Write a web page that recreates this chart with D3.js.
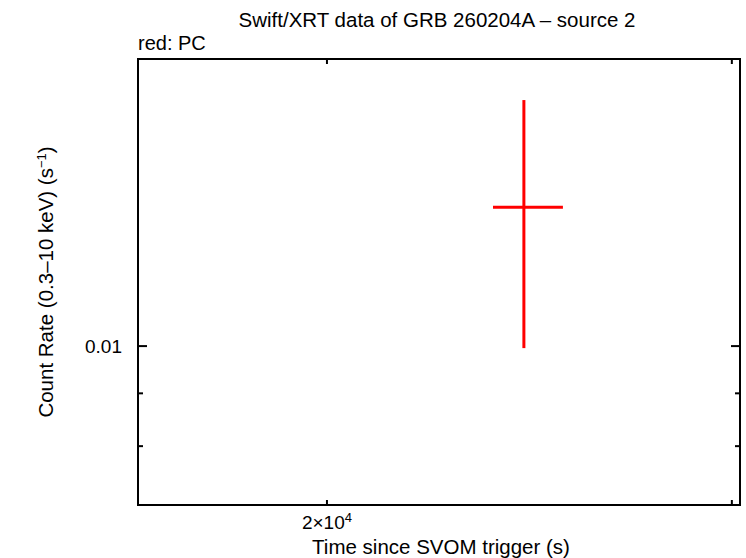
<!DOCTYPE html>
<html>
<head>
<meta charset="utf-8">
<script src="https://cdn.jsdelivr.net/npm/d3@7"></script>
<style>
  body { margin: 0; background: #fff; }
  text { font-family: "Liberation Sans", Arial, sans-serif; fill: #000; }
</style>
</head>
<body>
<div id="chart"></div>
<script>
// data (PC mode, one bin)
const times = [24360];
const timeLo = [23618];
const timeHi = [25331];
const rates = [0.01363];
const rateLo = [0.009955];
const rateHi = [0.01731];

const xDomain = [16552, 30246];
const yDomain = [0.007016, 0.01897];
const xMinorTicks = [20000, 30000];
const xLabels = [{v: 20000, m: '2×10', e: '4'}];
const yMajorTicks = [0.01];
const yMinorTicks = [0.008, 0.009];

//dimensions
const width = 746, height = 558;
const margin = {top: 59, right: 6, bottom: 53, left: 138};
const graphWidth = width - margin.left - margin.right;
const graphHeight = height - margin.top - margin.bottom;

const svg = d3.select('#chart')
    .append('svg')
    .attr('width', width)
    .attr('height', height);

const graph = svg.append('g')
    .attr('transform', `translate(${margin.left}, ${margin.top})`);

//scales
const x = d3.scaleLog().domain(xDomain).range([0, graphWidth]);
const y = d3.scaleLog().domain(yDomain).range([graphHeight, 0]);

// inward ticks on all four sides
const tickMarks = (vals, len, isX) => {
    vals.forEach(v => {
        if (isX) {
            const px = x(v);
            graph.append('line').attr('x1', px).attr('x2', px).attr('y1', graphHeight).attr('y2', graphHeight - len);
            graph.append('line').attr('x1', px).attr('x2', px).attr('y1', 0).attr('y2', len);
        } else {
            const py = y(v);
            graph.append('line').attr('y1', py).attr('y2', py).attr('x1', 0).attr('x2', len);
            graph.append('line').attr('y1', py).attr('y2', py).attr('x1', graphWidth).attr('x2', graphWidth - len);
        }
    });
};
tickMarks(xMinorTicks, 5, true);
tickMarks(yMajorTicks, 9, false);
tickMarks(yMinorTicks, 5, false);
graph.selectAll('line').attr('stroke', '#000').attr('stroke-width', 2);

// frame
graph.append('rect')
    .attr('width', graphWidth)
    .attr('height', graphHeight)
    .attr('fill', 'none')
    .attr('stroke', '#000')
    .attr('stroke-width', 2);

// tick labels
graph.selectAll('.ylab')
    .data(yMajorTicks)
    .enter().append('text')
    .attr('x', -16)
    .attr('y', d => y(d) + 7)
    .attr('text-anchor', 'end')
    .attr('font-size', 19)
    .text(d => d);

xLabels.forEach(l => {
    const t = graph.append('text')
        .attr('x', x(l.v))
        .attr('y', graphHeight + 24)
        .attr('text-anchor', 'middle')
        .attr('font-size', 19);
    t.append('tspan').text(l.m);
    t.append('tspan').attr('dy', -7).attr('font-size', 13).text(l.e);
});

// error bars
const pts = times.map((t, i) => ({t, lo: timeLo[i], hi: timeHi[i], r: rates[i], rlo: rateLo[i], rhi: rateHi[i]}));
const pg = graph.append('g').attr('stroke', '#ff0000').attr('stroke-width', 3);
pg.selectAll('.xe').data(pts).enter().append('line')
    .attr('x1', d => x(d.lo)).attr('x2', d => x(d.hi))
    .attr('y1', d => y(d.r)).attr('y2', d => y(d.r));
pg.selectAll('.ye').data(pts).enter().append('line')
    .attr('x1', d => x(d.t)).attr('x2', d => x(d.t))
    .attr('y1', d => y(d.rlo)).attr('y2', d => y(d.rhi));

// titles
svg.append('text')
    .attr('x', 437).attr('y', 27)
    .attr('text-anchor', 'middle')
    .attr('font-size', 20.5)
    .text('Swift/XRT data of GRB 260204A \u2013 source 2');

svg.append('text')
    .attr('x', 138).attr('y', 50)
    .attr('font-size', 20)
    .text('red: PC');

svg.append('text')
    .attr('x', 441).attr('y', 554)
    .attr('text-anchor', 'middle')
    .attr('font-size', 20.5)
    .text('Time since SVOM trigger (s)');

const yt = svg.append('text')
    .attr('transform', 'translate(53, 282) rotate(-90)')
    .attr('text-anchor', 'middle')
    .attr('font-size', 20.5);
yt.append('tspan').text('Count Rate (0.3\u201310 keV) (s');
yt.append('tspan').attr('dy', -7).attr('font-size', 13).text('\u22121');
yt.append('tspan').attr('dy', 7).text(')');
</script>
</body>
</html>
